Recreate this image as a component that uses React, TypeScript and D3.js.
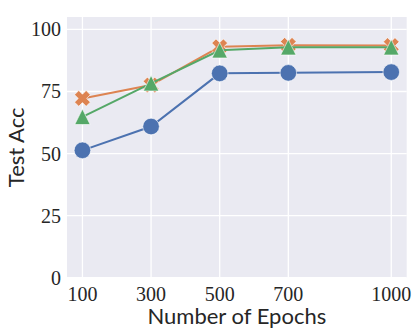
import React, { useEffect } from "react";
import * as d3 from "d3";

const epochs = [100, 300, 500, 700, 1000];
const blueSeries = [51.3, 60.9, 82.3, 82.5, 82.8];
const orangeSeries = [72.2, 77.6, 93.0, 93.6, 93.5];
const greenSeries = [64.8, 78.3, 91.6, 92.8, 92.8];
const yTicks = [0, 25, 50, 75, 100];
const xLabel = "Number of Epochs";
const yLabel = "Test Acc";

const W = 415;
const H = 332;
const left = 67;
const right = 406.7;
const top = 17;
const bottom = 277.7;

const x = d3.scaleLinear().domain([55, 1045]).range([left, right]);
const y = d3.scaleLinear().domain([0, 105]).range([bottom, top]);

const line = d3
  .line<number>()
  .x((_, i) => x(epochs[i]))
  .y((d) => y(d));

function xMarkerPath(s: number) {
  // rotated plus (matplotlib "X")
  const a = s; // arm half-length
  const t = s * 0.36; // arm half-thickness
  const pts: [number, number][] = [
    [-t, -a], [t, -a], [t, -t], [a, -t], [a, t], [t, t],
    [t, a], [-t, a], [-t, t], [-a, t], [-a, -t], [-t, -t],
  ];
  const c = Math.SQRT1_2;
  return (
    "M" +
    pts
      .map(([px, py]) => [(px - py) * c, (px + py) * c])
      .map(([px, py]) => `${px.toFixed(2)},${py.toFixed(2)}`)
      .join("L") +
    "Z"
  );
}

function triPath(h: number) {
  return `M0,${-h}L${h},${h}L${-h},${h}Z`;
}

export default function App() {
  useEffect(() => {
    document.body.style.margin = "0";
  }, []);
  const textColor = "#262626";
  return (
    <svg width={W} height={H} style={{ display: "block" }}>
      <rect x={0} y={0} width={W} height={H} fill="#ffffff" />
      <rect x={left} y={top} width={right - left} height={bottom - top} fill="#EAEAF2" />
      {yTicks.map((t) => (
        <line key={"gy" + t} x1={left} x2={right} y1={y(t)} y2={y(t)} stroke="#ffffff" strokeWidth={1.3} />
      ))}
      {epochs.map((t) => (
        <line key={"gx" + t} x1={x(t)} x2={x(t)} y1={top} y2={bottom} stroke="#ffffff" strokeWidth={1.3} />
      ))}
      {/* blue */}
      <path d={line(blueSeries) || ""} fill="none" stroke="#4C72B0" strokeWidth={2} />
      {blueSeries.map((v, i) => (
        <circle key={"b" + i} cx={x(epochs[i])} cy={y(v)} r={8.3} fill="#4C72B0" stroke="#ffffff" strokeWidth={0.6} />
      ))}
      {/* orange */}
      <path d={line(orangeSeries) || ""} fill="none" stroke="#DD8452" strokeWidth={2} />
      {orangeSeries.map((v, i) => (
        <path key={"o" + i} d={xMarkerPath(8.2)} transform={`translate(${x(epochs[i])},${y(v)})`} fill="#DD8452" stroke="#ffffff" strokeWidth={0.6} />
      ))}
      {/* green */}
      <path d={line(greenSeries) || ""} fill="none" stroke="#55A868" strokeWidth={2} />
      {greenSeries.map((v, i) => (
        <path key={"g" + i} d={triPath(7.7)} transform={`translate(${x(epochs[i])},${y(v)})`} fill="#55A868" stroke="#ffffff" strokeWidth={0.6} />
      ))}
      {/* y tick labels */}
      {yTicks.map((t) => (
        <text key={"yl" + t} x={61} y={y(t) + 7} textAnchor="end" fontFamily="Liberation Serif" fontSize={20} fill={textColor}>
          {t}
        </text>
      ))}
      {/* x tick labels */}
      {epochs.map((t) => (
        <text key={"xl" + t} x={x(t)} y={301} textAnchor="middle" fontFamily="Liberation Serif" fontSize={20} fill={textColor}>
          {t}
        </text>
      ))}
      <text x={(left + right) / 2} y={323.5} textAnchor="middle" fontFamily="Lato" fontSize={22} fill={textColor}>
        {xLabel}
      </text>
      <text
        transform={`translate(24,${(top + bottom) / 2}) rotate(-90)`}
        textAnchor="middle"
        fontFamily="Lato"
        fontSize={22}
        fill={textColor}
      >
        {yLabel}
      </text>
    </svg>
  );
}
